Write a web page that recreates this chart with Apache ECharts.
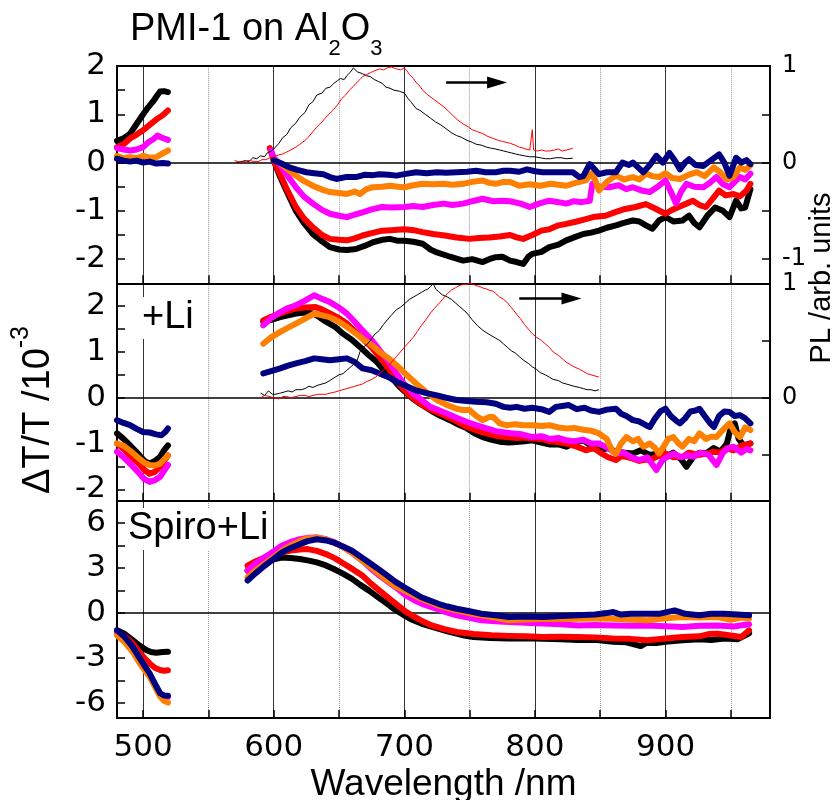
<!DOCTYPE html>
<html><head><meta charset="utf-8">
<script src="https://cdn.jsdelivr.net/npm/echarts@6/dist/echarts.min.js"></script>
<style>html,body{margin:0;padding:0;background:#fff}#c{width:837px;height:800px}</style>
</head><body><div id="c"></div>
<script>
// ---------- axis ticks ----------
const xLabelVals = [500, 600, 700, 800, 900];
const xTickVals = [500, 550, 600, 650, 700, 750, 800, 850, 900, 950];
const xMajorGrid = [500, 600, 700, 800, 900];
const xMinorGrid = [550, 650, 750, 850, 950];
const y1Labels = [-2, -1, 0, 1, 2];
const y1Ticks = [-2, -1.5, -1, -0.5, 0, 0.5, 1, 1.5, 2];
const y1RLabels = [-1, 0, 1];
const y1RTicks = [-1, -0.5, 0, 0.5, 1];
const y2Labels = [-2, -1, 0, 1, 2];
const y2Ticks = [-2, -1.5, -1, -0.5, 0, 0.5, 1, 1.5, 2];
const y2RLabels = [0, 1];
const y2RTicks = [-0.5, 0, 0.5, 1];
const y3Labels = [-6, -3, 0, 3, 6];
const y3Ticks = [-6, -4.5, -3, -1.5, 0, 1.5, 3, 4.5, 6];

// ---------- panel 1: PMI-1 on Al2O3 ----------
const a_blk_L = [[480,0.45],[485,0.5],[490,0.6],[495,0.8],[500,1.0],[504,1.15],[508,1.28],[511,1.4],[513,1.47],[516,1.48],[519,1.46]];
const a_red_L = [[480,0.32],[485,0.38],[490,0.5],[495,0.58],[500,0.67],[505,0.78],[510,0.89],[515,0.98],[519,1.08]];
const a_mag_L = [[480,0.3],[485,0.27],[490,0.25],[495,0.27],[500,0.32],[504,0.42],[508,0.49],[511,0.56],[514,0.52],[519,0.47]];
const a_org_L = [[480,0.14],[485,0.09],[490,0.11],[495,0.09],[500,0.14],[505,0.1],[510,0.11],[515,0.19],[519,0.25]];
const a_nav_L = [[480,0.08],[485,0.04],[490,0.02],[495,0.04],[500,0.0],[505,0.02],[510,-0.02],[515,-0.01],[519,-0.02]];
const a_blk_R = [[600,0.04],[605,-0.3],[610,-0.6],[617,-1.0],[623,-1.25],[630,-1.48],[637,-1.63],[643,-1.75],[650,-1.8],[656,-1.81],[663,-1.79],[670,-1.72],[676,-1.65],[683,-1.6],[689,-1.58],[695,-1.62],[700,-1.62],[707,-1.64],[714,-1.68],[720,-1.8],[725,-1.86],[735,-1.95],[745,-2.03],[752,-2.0],[760,-2.06],[765,-2.0],[770,-1.96],[775,-1.95],[781,-2.03],[786,-2.06],[791,-2.1],[795,-1.95],[798,-1.89],[805,-1.85],[811,-1.75],[818,-1.7],[824,-1.61],[830,-1.55],[837,-1.48],[843,-1.45],[849,-1.41],[855,-1.35],[862,-1.3],[868,-1.25],[875,-1.2],[880,-1.22],[885,-1.3],[890,-1.37],[895,-1.2],[900,-1.13],[906,-1.22],[913,-1.2],[918,-1.1],[922,-1.25],[926,-1.34],[932,-1.1],[938,-0.93],[944,-1.0],[949,-1.13],[954,-0.79],[958,-0.95],[961,-0.93],[965,-0.55]];
const a_red_R = [[597,0.3],[600,0.05],[605,-0.25],[610,-0.55],[617,-0.92],[623,-1.15],[630,-1.34],[637,-1.5],[643,-1.58],[650,-1.6],[656,-1.61],[662,-1.57],[668,-1.51],[675,-1.46],[683,-1.41],[690,-1.4],[700,-1.38],[707,-1.4],[714,-1.44],[722,-1.48],[731,-1.51],[740,-1.55],[750,-1.58],[757,-1.56],[765,-1.55],[773,-1.53],[781,-1.5],[786,-1.55],[791,-1.58],[798,-1.5],[805,-1.41],[811,-1.38],[818,-1.3],[824,-1.27],[832,-1.22],[839,-1.17],[846,-1.12],[854,-1.1],[861,-1.03],[869,-0.96],[877,-0.92],[885,-0.86],[892,-0.95],[900,-1.06],[905,-0.98],[910,-0.92],[916,-0.85],[921,-0.79],[926,-0.88],[931,-0.92],[936,-0.75],[941,-0.58],[946,-0.68],[952,-0.65],[957,-0.7],[962,-0.58],[965,-0.44]];
const a_mag_R = [[598,0.25],[600,0.1],[605,-0.05],[610,-0.25],[617,-0.51],[623,-0.7],[630,-0.85],[637,-0.98],[643,-1.06],[650,-1.1],[656,-1.13],[662,-1.08],[668,-1.03],[675,-0.97],[683,-0.92],[690,-0.93],[700,-0.92],[707,-0.9],[714,-0.92],[722,-0.88],[730,-0.85],[737,-0.88],[745,-0.85],[752,-0.8],[760,-0.75],[768,-0.8],[775,-0.79],[781,-0.8],[789,-0.85],[796,-0.92],[803,-0.85],[811,-0.79],[818,-0.82],[824,-0.85],[830,-0.8],[836,-0.82],[842,-0.79],[844,-0.44],[850,-0.5],[857,-0.51],[864,-0.47],[870,-0.55],[875,-0.51],[882,-0.58],[888,-0.61],[894,-0.5],[900,-0.37],[904,-0.6],[908,-0.85],[912,-0.6],[916,-0.44],[922,-0.5],[929,-0.51],[934,-0.42],[939,-0.3],[944,-0.45],[949,-0.51],[953,-0.4],[957,-0.3],[961,-0.35],[965,-0.23]];
const a_org_R = [[603,0.02],[608,-0.08],[612,-0.17],[617,-0.27],[623,-0.38],[630,-0.48],[637,-0.56],[643,-0.61],[650,-0.63],[656,-0.65],[662,-0.6],[666,-0.65],[671,-0.55],[676,-0.51],[683,-0.5],[689,-0.48],[695,-0.5],[700,-0.51],[707,-0.47],[714,-0.44],[722,-0.45],[730,-0.44],[737,-0.46],[745,-0.44],[752,-0.4],[760,-0.37],[765,-0.42],[770,-0.44],[776,-0.4],[781,-0.4],[788,-0.48],[796,-0.45],[804,-0.48],[812,-0.44],[818,-0.46],[824,-0.48],[831,-0.42],[839,-0.37],[843,-0.23],[846,-0.35],[849,-0.58],[855,-0.4],[862,-0.27],[868,-0.35],[875,-0.3],[880,-0.35],[885,-0.23],[890,-0.28],[895,-0.3],[900,-0.22],[905,-0.32],[911,-0.34],[918,-0.25],[924,-0.2],[930,-0.28],[937,-0.1],[942,-0.2],[947,-0.35],[952,-0.3],[957,-0.1],[961,-0.15],[965,-0.06]];
const a_nav_R = [[600,0.05],[606,-0.02],[612,-0.1],[618,-0.15],[625,-0.2],[631,-0.22],[638,-0.24],[643,-0.3],[648,-0.34],[655,-0.3],[663,-0.3],[670,-0.25],[676,-0.26],[681,-0.24],[688,-0.25],[694,-0.27],[700,-0.24],[709,-0.2],[717,-0.22],[725,-0.2],[732,-0.21],[740,-0.2],[748,-0.19],[755,-0.17],[762,-0.2],[770,-0.2],[776,-0.17],[781,-0.17],[788,-0.19],[794,-0.14],[800,-0.18],[806,-0.2],[811,-0.2],[818,-0.2],[824,-0.2],[829,-0.2],[834,-0.3],[837,-0.28],[842,-0.03],[846,-0.15],[849,-0.24],[855,-0.2],[862,-0.2],[867,0.0],[872,-0.05],[875,0.0],[879,-0.1],[883,-0.2],[888,-0.05],[893,0.14],[898,0.0],[903,0.2],[907,0.05],[911,-0.14],[915,0.0],[918,0.07],[923,-0.05],[929,-0.07],[935,0.05],[941,0.17],[945,0.0],[949,-0.27],[952,-0.05],[954,0.1],[958,0.0],[962,0.05],[965,-0.03]];
const a_plBlack = [[572,0.0],[575,0.01],[578,0.02],[581,0.01],[584,0.05],[587,0.04],[590,0.07],[593,0.06],[595,0.1],[598,0.12],[600,0.14],[604,0.2],[607,0.26],[610,0.29],[613,0.36],[617,0.41],[620,0.47],[624,0.52],[627,0.6],[630,0.63],[633,0.7],[637,0.72],[640,0.77],[643,0.78],[646,0.82],[649,0.85],[651,0.87],[654,0.86],[656,0.9],[659,0.94],[661,0.98],[664,0.94],[668,0.92],[671,0.9],[674,0.89],[677,0.86],[680,0.84],[683,0.82],[686,0.78],[689,0.77],[692,0.75],[696,0.74],[700,0.72],[703,0.66],[705,0.63],[709,0.56],[712,0.54],[716,0.5],[720,0.46],[724,0.42],[728,0.39],[732,0.35],[736,0.31],[740,0.28],[744,0.26],[748,0.23],[752,0.21],[755,0.19],[759,0.18],[763,0.16],[766,0.15],[770,0.14],[773,0.13],[776,0.12],[779,0.11],[782,0.1],[785,0.09],[788,0.08],[792,0.07],[796,0.06],[800,0.06],[804,0.05],[808,0.04],[812,0.04],[816,0.05],[820,0.05],[824,0.04],[829,0.045]];
const a_plRed = [[570,0.02],[573,0.01],[576,0.0],[579,0.02],[582,0.02],[585,0.01],[588,0.01],[591,0.03],[594,0.03],[597,0.05],[600,0.06],[604,0.08],[607,0.09],[610,0.11],[613,0.13],[617,0.16],[620,0.19],[624,0.23],[627,0.27],[630,0.32],[633,0.37],[637,0.42],[640,0.47],[643,0.51],[646,0.55],[649,0.6],[652,0.66],[655,0.7],[658,0.75],[661,0.79],[663,0.82],[666,0.86],[668,0.89],[671,0.91],[674,0.93],[677,0.95],[681,0.97],[684,0.96],[687,0.98],[690,0.99],[694,0.97],[697,0.96],[700,0.98],[702,0.95],[704,0.91],[707,0.87],[709,0.83],[712,0.79],[714,0.75],[718,0.7],[722,0.66],[726,0.62],[730,0.58],[734,0.53],[737,0.49],[741,0.44],[745,0.4],[749,0.37],[752,0.34],[756,0.32],[760,0.3],[764,0.27],[768,0.25],[772,0.23],[775,0.22],[778,0.21],[781,0.2],[785,0.18],[788,0.16],[791,0.15],[793,0.14],[796,0.13],[797,0.12],[798,0.34],[799,0.13],[802,0.12],[805,0.13],[808,0.12],[811,0.12],[815,0.13],[818,0.14],[821,0.12],[824,0.13],[827,0.14],[829,0.15]];

// ---------- panel 2: +Li ----------
const b_blk_L = [[480,-0.78],[485,-0.9],[491,-1.07],[497,-1.25],[501,-1.38],[505,-1.44],[509,-1.38],[513,-1.29],[516,-1.15],[519,-1.04]];
const b_red_L = [[480,-1.0],[485,-1.12],[491,-1.29],[497,-1.45],[501,-1.58],[505,-1.66],[509,-1.62],[513,-1.51],[516,-1.38],[519,-1.26]];
const b_mag_L = [[480,-1.18],[485,-1.3],[491,-1.47],[497,-1.65],[501,-1.78],[505,-1.84],[509,-1.8],[513,-1.73],[516,-1.6],[519,-1.47]];
const b_org_L = [[480,-1.0],[485,-1.05],[491,-1.18],[497,-1.33],[501,-1.42],[505,-1.47],[509,-1.48],[513,-1.44],[516,-1.35],[519,-1.26]];
const b_nav_L = [[480,-0.49],[485,-0.55],[490,-0.6],[495,-0.68],[500,-0.75],[505,-0.76],[510,-0.8],[514,-0.82],[517,-0.75],[519,-0.67]];
const b_blk_R = [[592,1.66],[598,1.7],[605,1.76],[611,1.8],[617,1.84],[624,1.86],[630,1.84],[635,1.76],[640,1.66],[647,1.55],[653,1.4],[660,1.26],[666,1.11],[672,0.95],[679,0.78],[685,0.58],[692,0.38],[697,0.22],[702,0.09],[707,-0.03],[712,-0.13],[717,-0.22],[722,-0.31],[728,-0.4],[735,-0.49],[741,-0.58],[748,-0.67],[754,-0.78],[760,-0.86],[767,-0.92],[773,-0.96],[780,-0.98],[786,-0.97],[792,-0.95],[798,-0.93],[805,-0.98],[811,-1.02],[818,-1.02],[824,-1.07],[830,-1.0],[837,-0.93],[843,-1.05],[849,-1.15],[856,-1.1],[862,-1.18],[869,-1.2],[875,-1.22],[881,-1.15],[888,-1.25],[894,-1.22],[900,-1.29],[906,-1.2],[912,-1.35],[916,-1.51],[921,-1.3],[926,-1.2],[931,-1.22],[937,-1.1],[942,-1.18],[947,-1.0],[950,-0.65],[953,-0.56],[956,-0.9],[960,-1.05],[965,-1.0]];
const b_red_R = [[592,1.69],[598,1.77],[605,1.84],[611,1.9],[617,1.95],[624,1.97],[632,1.98],[637,1.93],[643,1.84],[650,1.74],[656,1.62],[662,1.46],[668,1.29],[675,1.1],[681,0.89],[688,0.64],[694,0.38],[699,0.2],[704,0.05],[709,-0.06],[714,-0.16],[722,-0.28],[730,-0.38],[739,-0.5],[748,-0.64],[756,-0.72],[763,-0.78],[770,-0.83],[778,-0.86],[786,-0.88],[792,-0.87],[798,-0.89],[805,-0.9],[811,-0.95],[818,-0.97],[824,-1.0],[830,-1.05],[835,-1.1],[839,-1.15],[845,-1.1],[850,-1.2],[856,-1.3],[862,-1.36],[866,-1.28],[870,-1.29],[875,-1.33],[880,-1.38],[885,-1.35],[888,-1.36],[894,-1.28],[900,-1.22],[906,-1.3],[913,-1.29],[918,-1.2],[925,-1.25],[931,-1.22],[937,-1.18],[942,-1.2],[947,-1.1],[952,-1.15],[958,-1.05],[965,-1.0]];
const b_mag_R = [[592,1.58],[598,1.74],[605,1.87],[611,1.96],[617,2.02],[624,2.12],[631,2.24],[637,2.16],[643,2.09],[650,1.97],[656,1.84],[662,1.66],[668,1.47],[675,1.26],[681,1.04],[688,0.79],[694,0.53],[700,0.3],[707,0.09],[714,-0.07],[720,-0.2],[727,-0.28],[733,-0.35],[740,-0.44],[748,-0.53],[755,-0.6],[763,-0.67],[770,-0.73],[777,-0.76],[783,-0.78],[790,-0.8],[798,-0.86],[805,-0.84],[811,-0.9],[818,-0.88],[824,-0.93],[830,-0.95],[837,-0.92],[843,-1.0],[849,-1.0],[856,-1.1],[862,-1.22],[868,-1.2],[874,-1.3],[880,-1.36],[886,-1.3],[893,-1.58],[898,-1.35],[906,-1.22],[912,-1.3],[917,-1.25],[921,-1.29],[927,-1.2],[933,-1.25],[939,-1.47],[944,-1.2],[948,-1.1],[952,-1.07],[958,-1.2],[962,-1.12],[965,-1.15]];
const b_org_R = [[592,1.18],[598,1.32],[605,1.44],[611,1.53],[617,1.62],[624,1.73],[631,1.84],[637,1.8],[643,1.76],[650,1.66],[656,1.55],[662,1.42],[668,1.29],[675,1.15],[681,1.0],[688,0.86],[694,0.71],[701,0.52],[709,0.31],[717,0.12],[725,-0.05],[732,-0.15],[740,-0.24],[745,-0.27],[750,-0.27],[755,-0.4],[760,-0.49],[765,-0.42],[768,-0.42],[773,-0.56],[778,-0.6],[785,-0.58],[791,-0.6],[798,-0.6],[805,-0.62],[811,-0.6],[818,-0.65],[824,-0.67],[830,-0.66],[837,-0.7],[843,-0.72],[849,-0.78],[855,-0.9],[859,-1.15],[862,-1.22],[866,-1.0],[870,-0.86],[875,-0.95],[879,-0.9],[883,-1.07],[888,-1.0],[892,-1.1],[895,-1.22],[899,-1.05],[902,-0.9],[906,-0.86],[910,-1.0],[913,-1.07],[918,-0.9],[922,-0.95],[926,-0.78],[931,-0.9],[935,-0.85],[939,-0.86],[944,-0.7],[949,-0.56],[953,-0.75],[957,-0.86],[961,-0.65],[965,-0.71]];
const b_nav_R = [[592,0.53],[598,0.58],[605,0.64],[611,0.7],[617,0.75],[624,0.8],[631,0.86],[637,0.84],[643,0.82],[650,0.84],[656,0.86],[662,0.78],[668,0.64],[675,0.6],[681,0.53],[688,0.45],[694,0.35],[701,0.26],[709,0.16],[717,0.1],[725,0.05],[732,0.0],[740,-0.05],[748,-0.07],[755,-0.09],[763,-0.1],[770,-0.13],[776,-0.2],[781,-0.22],[786,-0.2],[792,-0.24],[798,-0.22],[805,-0.25],[811,-0.31],[816,-0.2],[821,-0.18],[826,-0.16],[832,-0.25],[838,-0.22],[843,-0.28],[849,-0.31],[855,-0.26],[862,-0.24],[866,-0.35],[870,-0.4],[875,-0.49],[880,-0.52],[885,-0.6],[888,-0.64],[892,-0.45],[896,-0.3],[900,-0.24],[904,-0.4],[908,-0.5],[911,-0.56],[915,-0.45],[919,-0.3],[923,-0.28],[926,-0.24],[930,-0.4],[934,-0.55],[937,-0.64],[941,-0.4],[945,-0.3],[949,-0.31],[953,-0.4],[957,-0.38],[961,-0.45],[965,-0.56]];
const b_plBlack = [[590,0.04],[593,0.02],[596,0.06],[599,0.03],[601,0.03],[605,0.04],[608,0.05],[611,0.06],[614,0.05],[617,0.07],[621,0.07],[624,0.08],[627,0.1],[630,0.09],[634,0.11],[637,0.12],[640,0.13],[643,0.15],[647,0.18],[650,0.2],[653,0.21],[656,0.24],[659,0.27],[661,0.29],[664,0.33],[666,0.4],[668,0.44],[671,0.46],[674,0.5],[677,0.55],[681,0.59],[684,0.64],[687,0.68],[690,0.72],[694,0.77],[697,0.79],[700,0.82],[704,0.86],[707,0.88],[710,0.9],[713,0.92],[716,0.94],[718,0.95],[720,0.97],[722,1.0],[724,0.95],[726,0.93],[729,0.9],[733,0.88],[736,0.86],[739,0.83],[742,0.8],[745,0.77],[748,0.74],[752,0.68],[756,0.63],[760,0.59],[764,0.56],[767,0.54],[770,0.52],[773,0.5],[776,0.47],[779,0.44],[782,0.41],[785,0.39],[788,0.36],[791,0.33],[795,0.3],[798,0.27],[801,0.25],[804,0.22],[808,0.2],[811,0.18],[814,0.16],[818,0.15],[821,0.13],[824,0.12],[827,0.11],[830,0.1],[834,0.09],[837,0.08],[840,0.07],[843,0.07],[846,0.06],[849,0.07]];
const b_plRed = [[590,0.0],[593,0.02],[597,0.01],[600,0.0],[604,-0.01],[607,0.01],[610,0.01],[613,0.0],[617,0.01],[620,0.02],[624,0.02],[627,0.01],[630,0.02],[634,0.03],[637,0.03],[640,0.03],[643,0.04],[647,0.05],[650,0.06],[653,0.07],[656,0.08],[659,0.09],[662,0.1],[665,0.11],[668,0.12],[671,0.14],[675,0.16],[678,0.18],[681,0.21],[684,0.24],[688,0.28],[691,0.32],[694,0.36],[697,0.4],[700,0.44],[704,0.49],[707,0.53],[710,0.58],[713,0.63],[717,0.69],[720,0.74],[723,0.78],[727,0.83],[730,0.87],[733,0.91],[736,0.94],[739,0.96],[742,0.98],[745,0.99],[748,0.99],[750,1.0],[753,0.99],[755,0.98],[758,0.97],[760,0.96],[763,0.95],[765,0.94],[768,0.93],[770,0.91],[773,0.88],[776,0.86],[779,0.83],[781,0.8],[784,0.76],[786,0.73],[789,0.69],[792,0.64],[795,0.6],[798,0.56],[801,0.53],[805,0.5],[808,0.47],[811,0.44],[814,0.4],[818,0.37],[821,0.34],[824,0.31],[827,0.29],[830,0.27],[834,0.25],[837,0.23],[840,0.21],[843,0.2],[846,0.19],[849,0.18]];

// ---------- panel 3: Spiro+Li ----------
const c_blk_L = [[480,-1.15],[486,-1.4],[492,-1.81],[497,-2.15],[502,-2.45],[506,-2.6],[510,-2.65],[515,-2.6],[519,-2.58]];
const c_red_L = [[480,-1.26],[486,-1.55],[492,-2.03],[497,-2.6],[501,-3.0],[505,-3.36],[509,-3.65],[513,-3.8],[516,-3.85],[519,-3.82]];
const c_mag_L = [[480,-1.3],[486,-1.75],[492,-2.4],[497,-3.1],[501,-3.6],[505,-4.13],[509,-4.8],[513,-5.4],[516,-5.55],[519,-5.6]];
const c_org_L = [[480,-1.48],[486,-1.95],[492,-2.58],[497,-3.3],[501,-3.8],[505,-4.24],[509,-4.9],[513,-5.57],[516,-5.85],[519,-5.97]];
const c_nav_L = [[480,-1.15],[486,-1.6],[492,-2.25],[497,-2.95],[501,-3.5],[505,-4.02],[509,-4.7],[513,-5.35],[516,-5.5],[519,-5.52]];
const c_blk_R = [[580,2.83],[586,3.1],[593,3.38],[600,3.58],[606,3.71],[613,3.68],[620,3.61],[626,3.52],[633,3.38],[640,3.18],[646,2.94],[653,2.63],[660,2.28],[666,1.9],[673,1.5],[680,1.05],[687,0.62],[693,0.22],[700,-0.15],[706,-0.45],[713,-0.7],[720,-0.88],[726,-1.04],[733,-1.22],[740,-1.37],[746,-1.5],[753,-1.59],[766,-1.67],[780,-1.7],[793,-1.68],[806,-1.72],[820,-1.75],[833,-1.8],[846,-1.78],[860,-1.92],[870,-1.95],[881,-2.2],[885,-2.0],[893,-2.0],[900,-1.92],[913,-1.82],[926,-1.75],[935,-1.8],[945,-1.7],[955,-1.75],[964,-1.35]];
const c_red_R = [[580,3.16],[586,3.45],[593,3.71],[600,3.9],[606,4.04],[613,4.18],[620,4.25],[626,4.27],[633,4.15],[640,3.94],[647,3.65],[654,3.28],[661,2.9],[668,2.5],[674,2.0],[681,1.5],[688,1.0],[695,0.51],[701,0.1],[708,-0.26],[714,-0.55],[721,-0.82],[730,-1.05],[740,-1.26],[753,-1.4],[767,-1.48],[780,-1.52],[793,-1.55],[806,-1.59],[820,-1.58],[833,-1.59],[846,-1.62],[860,-1.7],[873,-1.72],[886,-1.81],[900,-1.7],[913,-1.59],[926,-1.55],[933,-1.4],[940,-1.37],[950,-1.5],[958,-1.59],[964,-1.15]];
const c_mag_R = [[580,2.83],[586,3.3],[593,3.71],[600,4.12],[606,4.49],[613,4.75],[620,4.93],[626,5.02],[633,5.04],[640,4.93],[647,4.7],[654,4.38],[661,3.96],[668,3.49],[674,3.0],[681,2.5],[688,2.05],[695,1.62],[701,1.2],[708,0.84],[714,0.6],[721,0.4],[730,0.12],[740,-0.15],[750,-0.32],[759,-0.48],[770,-0.55],[780,-0.6],[793,-0.65],[806,-0.7],[820,-0.75],[833,-0.82],[846,-0.8],[860,-0.82],[873,-0.85],[886,-0.82],[900,-0.88],[913,-0.93],[926,-0.85],[940,-0.82],[952,-0.9],[964,-0.75]];
const c_org_R = [[580,2.39],[586,2.85],[593,3.28],[600,3.73],[606,4.16],[613,4.52],[620,4.82],[626,4.98],[633,5.04],[640,4.92],[646,4.71],[653,4.4],[660,4.04],[666,3.62],[673,3.16],[680,2.66],[687,2.17],[693,1.8],[700,1.5],[707,1.2],[713,0.95],[720,0.72],[726,0.51],[733,0.33],[740,0.18],[750,0.0],[759,-0.15],[770,-0.32],[780,-0.48],[793,-0.42],[806,-0.37],[820,-0.4],[833,-0.37],[846,-0.35],[860,-0.37],[873,-0.42],[886,-0.48],[900,-0.35],[913,-0.26],[926,-0.3],[940,-0.26],[950,-0.45],[958,-0.3],[964,-0.37]];
const c_nav_R = [[580,2.17],[586,2.65],[593,3.16],[600,3.62],[606,4.04],[613,4.35],[620,4.6],[626,4.8],[633,4.93],[640,4.85],[646,4.71],[653,4.45],[660,4.16],[666,3.8],[673,3.38],[680,2.95],[687,2.5],[693,2.1],[700,1.72],[707,1.37],[713,1.06],[720,0.82],[726,0.62],[733,0.44],[740,0.29],[750,0.12],[759,-0.04],[770,-0.15],[780,-0.26],[793,-0.22],[806,-0.26],[820,-0.2],[833,-0.15],[846,-0.1],[855,0.0],[860,0.07],[866,-0.1],[873,-0.05],[886,-0.04],[895,-0.05],[907,0.18],[915,-0.05],[926,-0.15],[935,-0.05],[945,-0.04],[955,-0.1],[964,-0.15]];

// arrows (data coordinates, left axis)
const arrow1 = [[732, 1.66], [771, 1.66]];
const arrow2 = [[788, 2.17], [828, 2.17]];

// ---------- build ----------
const COLORS = {blk:'#000000', red:'#ff0000', mag:'#ff00ff', org:'#ff8000', nav:'#000080'};
const TICKFONT = 'DejaVu Sans';
const TEXTFONT = 'Liberation Sans';
const GL = 117, GW = 653;
const grids = [
  {left: GL, top: 66, width: GW, height: 217.3},
  {left: GL, top: 283.3, width: GW, height: 217.4},
  {left: GL, top: 500.7, width: GW, height: 217.3}
];
const XMIN = 480, XMAX = 980;

function xAxes(gi, labels) {
  return [{
    type:'value', gridIndex: gi, min: XMIN, max: XMAX, position:'bottom',
    axisLine:{show:true, onZero:false, lineStyle:{color:'#000', width:2}},
    axisTick:{show:true, inside:true, length:8, customValues: xTickVals, lineStyle:{color:'#000', width:1.5}},
    axisLabel:{show: labels, customValues: xLabelVals, fontSize:31, fontFamily:TICKFONT, color:'#000', margin:14},
    splitLine:{show:false}
  },{
    type:'value', gridIndex: gi, min: XMIN, max: XMAX, position:'top',
    axisLine:{show:true, onZero:false, lineStyle:{color:'#000', width:2}},
    axisTick:{show:false}, axisLabel:{show:false}, splitLine:{show:false}
  }];
}
function yAxis(gi, pos, min, max, labels, ticks, fs, showLab) {
  return {
    type:'value', gridIndex: gi, position: pos, min, max,
    axisLine:{show:true, onZero:false, lineStyle:{color:'#000', width:2}},
    axisTick:{show: ticks.length>0, inside:true, length:8, customValues: ticks.length?ticks:undefined, lineStyle:{color:'#000', width:1.5}},
    axisLabel:{show: showLab, customValues: labels.length?labels:undefined, fontSize: fs, fontFamily:TICKFONT, color:'#000', margin: pos==='left'?11:12},
    splitLine:{show:false}
  };
}
const xAxisArr = [...xAxes(0,false), ...xAxes(1,false), ...xAxes(2,true)];
const yAxisArr = [
  yAxis(0,'left',-2.5,2,y1Labels,y1Ticks,31,true),
  yAxis(0,'right',-1.25,1,y1RLabels,y1RTicks,24,true),
  yAxis(1,'left',-2.25,2.5,y2Labels,y2Ticks,31,true),
  yAxis(1,'right',-0.9,1,y2RLabels,y2RTicks,24,true),
  yAxis(2,'left',-7,7.5,y3Labels,y3Ticks,31,true),
  yAxis(2,'right',-7,7.5,[],[],24,false)
];

const series = [];
function gridLines(gi) {
  const d = [];
  xMajorGrid.forEach(v => d.push({xAxis: v, lineStyle:{type:'solid', color:'#333', width:1}}));
  xMinorGrid.forEach(v => d.push({xAxis: v, lineStyle:{type:'dotted', color:'#999', width:1}}));
  d.push({yAxis: 0, lineStyle:{type:'solid', color:'#000', width:1.5}});
  series.push({type:'line', xAxisIndex: gi*2, yAxisIndex: gi*2, data: [], z: 0, silent: true,
    markLine:{symbol:'none', silent:true, z:0, animation:false, label:{show:false}, emphasis:{disabled:true}, data: d}});
}
function ta(gi, L, R, color) {
  series.push({type:'line', xAxisIndex: gi*2, yAxisIndex: gi*2, data: [...L, [550,'-'], ...R],
    showSymbol:false, symbol:'none', connectNulls:false, z: 2,
    lineStyle:{color, width:6, join:'round', cap:'round'}, itemStyle:{color}, silent:true});
}
function pl(gi, D, color) {
  series.push({type:'line', xAxisIndex: gi*2, yAxisIndex: gi*2+1, data: D,
    showSymbol:false, symbol:'none', z: 3, lineStyle:{color, width:1}, itemStyle:{color}, silent:true});
}
function arrow(gi, A) {
  series.push({type:'line', xAxisIndex: gi*2, yAxisIndex: gi*2, data: [], z: 5, silent:true,
    markLine:{silent:true, z:5, animation:false, label:{show:false}, emphasis:{disabled:true},
      lineStyle:{color:'#000', width:2.5, type:'solid'},
      data:[[{coord:A[0], symbol:'none'},{coord:A[1], symbol:'triangle', symbolSize:[12,20]}]]}});
}
[0,1,2].forEach(gridLines);
ta(0,a_blk_L,a_blk_R,COLORS.blk); ta(0,a_red_L,a_red_R,COLORS.red); ta(0,a_mag_L,a_mag_R,COLORS.mag); ta(0,a_org_L,a_org_R,COLORS.org); ta(0,a_nav_L,a_nav_R,COLORS.nav);
ta(1,b_blk_L,b_blk_R,COLORS.blk); ta(1,b_red_L,b_red_R,COLORS.red); ta(1,b_mag_L,b_mag_R,COLORS.mag); ta(1,b_org_L,b_org_R,COLORS.org); ta(1,b_nav_L,b_nav_R,COLORS.nav);
ta(2,c_blk_L,c_blk_R,COLORS.blk); ta(2,c_red_L,c_red_R,COLORS.red); ta(2,c_mag_L,c_mag_R,COLORS.mag); ta(2,c_org_L,c_org_R,COLORS.org); ta(2,c_nav_L,c_nav_R,COLORS.nav);
pl(0,a_plBlack,COLORS.blk); pl(0,a_plRed,COLORS.red);
pl(1,b_plBlack,COLORS.blk); pl(1,b_plRed,COLORS.red);
arrow(0,arrow1); arrow(1,arrow2);

const graphic = [
  {type:'text', x:130, y:11, z:10, style:{
    text:'{a|PMI-1 on Al}{s|2}{a|O}{s|3}', align:'left', verticalAlign:'top', textAlign:'left', textVerticalAlign:'top',
    rich:{a:{fontSize:38, fontFamily:TEXTFONT, fill:'#000', color:'#000', lineHeight:40, verticalAlign:'top'},
          s:{fontSize:22, fontFamily:TEXTFONT, fill:'#000', color:'#000', lineHeight:24, padding:[27,0,0,0], verticalAlign:'top'}}}},
  {type:'text', x:38, y:410, rotation:Math.PI/2, z:10, style:{
    text:'{a|ΔT/T /10}{s|-3}', align:'center', verticalAlign:'middle', textAlign:'center', textVerticalAlign:'middle',
    rich:{a:{fontSize:38, fontFamily:TEXTFONT, fill:'#000', color:'#000', lineHeight:40, verticalAlign:'bottom'},
          s:{fontSize:25, fontFamily:TEXTFONT, fill:'#000', color:'#000', lineHeight:27, padding:[0,0,24,0], verticalAlign:'bottom'}}}},
  {type:'text', x:822, y:278, rotation:Math.PI/2, z:10, style:{
    text:'PL /arb. units', font:'29px "Liberation Sans"', fill:'#000', align:'center', verticalAlign:'middle', textAlign:'center', textVerticalAlign:'middle'}},
  {type:'text', x:140, y:318, z:10, style:{
    text:'+Li', font:'38px "Liberation Sans"', fill:'#000', align:'left', verticalAlign:'middle', textAlign:'left', textVerticalAlign:'middle',
    backgroundColor:'#fff', padding:[2,2,2,2]}},
  {type:'text', x:126, y:529, z:10, style:{
    text:'Spiro+Li', font:'38px "Liberation Sans"', fill:'#000', align:'left', verticalAlign:'middle', textAlign:'left', textVerticalAlign:'middle',
    backgroundColor:'#fff', padding:[2,2,2,2]}},
  {type:'text', x:443.5, y:785, z:10, style:{
    text:'Wavelength /nm', font:'37px "Liberation Sans"', fill:'#000', align:'center', verticalAlign:'middle', textAlign:'center', textVerticalAlign:'middle'}}
];

const chart = echarts.init(document.getElementById('c'), null, {renderer:'canvas'});
chart.setOption({
  animation:false, backgroundColor:'#fff',
  grid: grids, xAxis: xAxisArr, yAxis: yAxisArr, series, graphic
});
</script></body></html>
